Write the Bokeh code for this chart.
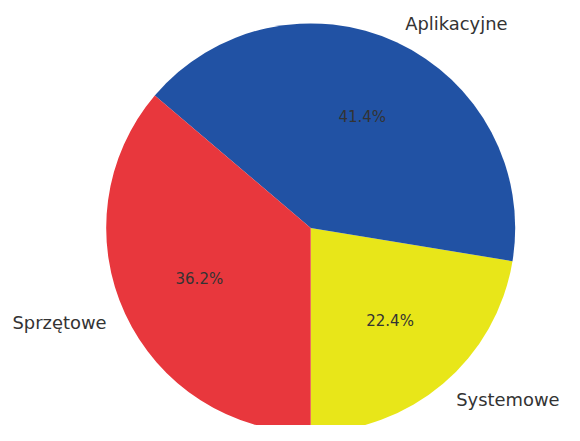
import math
from bokeh.plotting import figure
from bokeh.models import ColumnDataSource, Range1d
from bokeh.core.properties import value
from bokeh.embed import file_html
from bokeh.resources import INLINE

# Data
categories = ["Systemowe", "Aplikacyjne", "Sprzętowe"]
shares = [22.4, 41.4, 36.2]
colors = ["#E8E619", "#2152A4", "#E8373D"]
start_deg = -90.0

# Layout (pixels, within the figure)
W, H = 564, 425
R_PX = 204.5
CX, CY = 310.2, 227.4

x0 = -CX / R_PX
x1 = x0 + W / R_PX
y1 = CY / R_PX
y0 = y1 - H / R_PX

total = sum(shares)
starts, ends, mids = [], [], []
a = math.radians(start_deg)
for v in shares:
    sweep = 2 * math.pi * v / total
    starts.append(a)
    ends.append(a + sweep)
    mids.append(a + sweep / 2)
    a += sweep

src = ColumnDataSource(dict(start=starts, end=ends, color=colors))

p = figure(width=W, height=H, x_range=Range1d(x0, x1), y_range=Range1d(y0, y1),
           output_backend="svg", toolbar_location=None, min_border=0)
p.axis.visible = False
p.grid.visible = False
p.outline_line_color = None
p.background_fill_color = "white"
p.border_fill_color = "white"

p.wedge(x=0, y=0, radius=1.0, start_angle="start", end_angle="end",
        fill_color="color", line_color=None, source=src)

lab = ColumnDataSource(dict(
    x=[1.1 * math.cos(m) for m in mids],
    y=[1.1 * math.sin(m) for m in mids],
    text=categories,
    align=["left" if math.cos(m) > 0 else "right" for m in mids],
))
p.text(x="x", y="y", text="text", text_align="align", text_baseline="middle",
       text_font=value("DejaVu Sans"), text_font_size="17.9px",
       text_color="#333333", source=lab)

pct = ColumnDataSource(dict(
    x=[0.6 * math.cos(m) for m in mids],
    y=[0.6 * math.sin(m) for m in mids],
    text=["%.1f%%" % (100 * v / total) for v in shares],
))
p.text(x="x", y="y", text="text", text_align="center", text_baseline="middle",
       text_font=value("DejaVu Sans"), text_font_size="15px",
       text_color="#333333", source=pct)

open("out.html", "w").write(file_html(p, INLINE))
